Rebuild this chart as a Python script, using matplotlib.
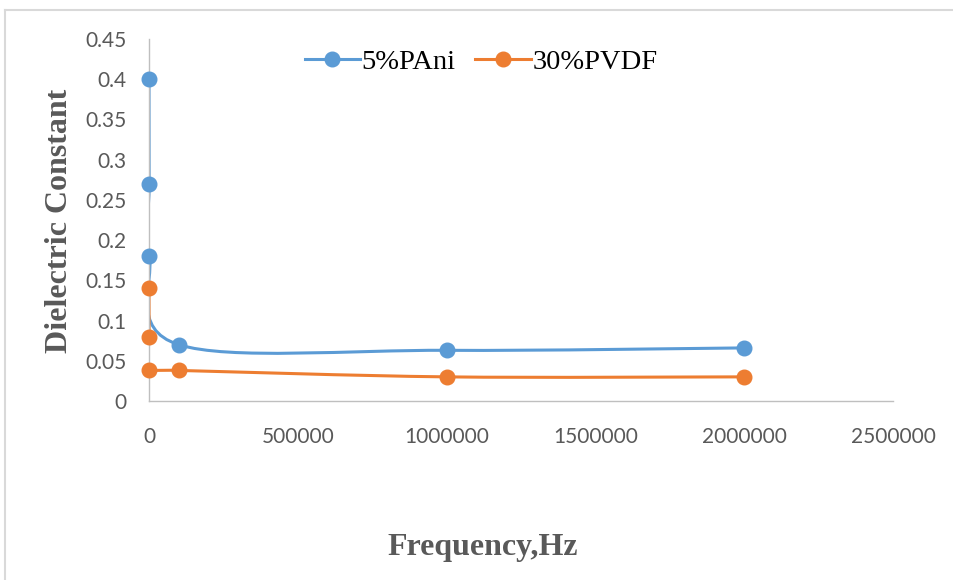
#!/usr/bin/env python3
"""Dielectric constant vs frequency for 5% PAni and 30% PVDF films,
drawn with Excel-style smoothed lines."""

import matplotlib
matplotlib.use("Agg")
import matplotlib.pyplot as plt
from matplotlib.lines import Line2D
from matplotlib.path import Path
from matplotlib.patches import PathPatch

# data
freq_hz = [100, 500, 1000, 100000, 1000000, 2000000]
pani_5 = [0.40, 0.27, 0.18, 0.07, 0.063, 0.066]
pvdf_30 = [0.14, 0.08, 0.039, 0.038, 0.030, 0.030]

series_labels = ["5%PAni", "30%PVDF"]
y_ticks = [0, 0.05, 0.1, 0.15, 0.2, 0.25, 0.3, 0.35, 0.4, 0.45]
y_tick_labels = ["0", "0.05", "0.1", "0.15", "0.2", "0.25", "0.3", "0.35", "0.4", "0.45"]
x_ticks = [0, 500000, 1000000, 1500000, 2000000, 2500000]
x_tick_labels = ["0", "500000", "1000000", "1500000", "2000000", "2500000"]

BLUE = "#5B9BD5"
ORANGE = "#ED7D31"
AXIS_GREY = "#BFBFBF"
TEXT_GREY = "#595959"
TICK_FONT = "Lato"
SERIF = "Liberation Serif"


def smooth_path(xs, ys):
    """Cubic Bezier through the points, control points as Excel's smoothed line."""
    pts = list(zip(xs, ys))
    n = len(pts)
    verts = [pts[0]]
    codes = [Path.MOVETO]
    for i in range(n - 1):
        p0 = pts[i - 1] if i > 0 else pts[i]
        p1 = pts[i]
        p2 = pts[i + 1]
        p3 = pts[i + 2] if i + 2 < n else pts[i + 1]
        c1 = (p1[0] + (p2[0] - p0[0]) / 6, p1[1] + (p2[1] - p0[1]) / 6)
        c2 = (p2[0] - (p3[0] - p1[0]) / 6, p2[1] - (p3[1] - p1[1]) / 6)
        verts += [c1, c2, p2]
        codes += [Path.CURVE4] * 3
    return Path(verts, codes)


def main():
    W, H = 954, 580
    fig = plt.figure(figsize=(W / 100, H / 100), dpi=100)
    fig.patch.set_facecolor("white")

    # outer chart frame (only top and left edges visible in the crop)
    fig.add_artist(Line2D([5.5 / W, 5.5 / W], [0, 1 - 9.5 / H], color="#D9D9D9", lw=1.5,
                          transform=fig.transFigure))
    fig.add_artist(Line2D([5.5 / W, 1], [1 - 9.5 / H, 1 - 9.5 / H], color="#D9D9D9", lw=1.5,
                          transform=fig.transFigure))

    ax = fig.add_axes([149 / W, 1 - 401 / H, (893 - 149) / W, (401 - 39) / H])

    for ys, color in [(pani_5, BLUE), (pvdf_30, ORANGE)]:
        ax.add_patch(PathPatch(smooth_path(freq_hz, ys), facecolor="none", edgecolor=color,
                               lw=2.2, capstyle="round", joinstyle="round", zorder=2))
        ax.plot(freq_hz, ys, linestyle="none", marker="o", markersize=10.5, color=color,
                zorder=3, clip_on=False)

    ax.set_xlim(0, 2500000)
    ax.set_ylim(0, 0.45)
    ax.set_xticks(x_ticks)
    ax.set_xticklabels(x_tick_labels)
    ax.set_yticks(y_ticks)
    ax.set_yticklabels(y_tick_labels)

    for spine in ["top", "right"]:
        ax.spines[spine].set_visible(False)
    for spine in ["left", "bottom"]:
        ax.spines[spine].set_color(AXIS_GREY)
        ax.spines[spine].set_linewidth(1.0)

    ax.tick_params(axis="x", length=0, pad=19, labelsize=15, labelcolor=TEXT_GREY)
    ax.tick_params(axis="y", length=0, pad=16, labelsize=15, labelcolor=TEXT_GREY)
    for lab in ax.get_xticklabels() + ax.get_yticklabels():
        lab.set_fontfamily(TICK_FONT)

    fig.text(60 / W, 1 - 221 / H, "Dielectric Constant", rotation=90, ha="center", va="center",
             fontsize=23, fontweight="bold", family=SERIF, color=TEXT_GREY)
    fig.text(483 / W, 1 - 547 / H, "Frequency,Hz", ha="center", va="center",
             fontsize=23, fontweight="bold", family=SERIF, color=TEXT_GREY)

    handles = [
        Line2D([0], [0], color=BLUE, lw=2.2, marker="o", markersize=10.5),
        Line2D([0], [0], color=ORANGE, lw=2.2, marker="o", markersize=10.5),
    ]
    ax.legend(handles, series_labels, loc="center", ncol=2, frameon=False,
              bbox_to_anchor=(481 / W, 1 - 62 / H), bbox_transform=fig.transFigure,
              prop={"family": SERIF, "size": 20.5}, handlelength=1.95, handletextpad=0.05,
              columnspacing=0.7, borderpad=0.2)

    fig.savefig("out.png", dpi=100, facecolor=fig.get_facecolor())


if __name__ == "__main__":
    main()
